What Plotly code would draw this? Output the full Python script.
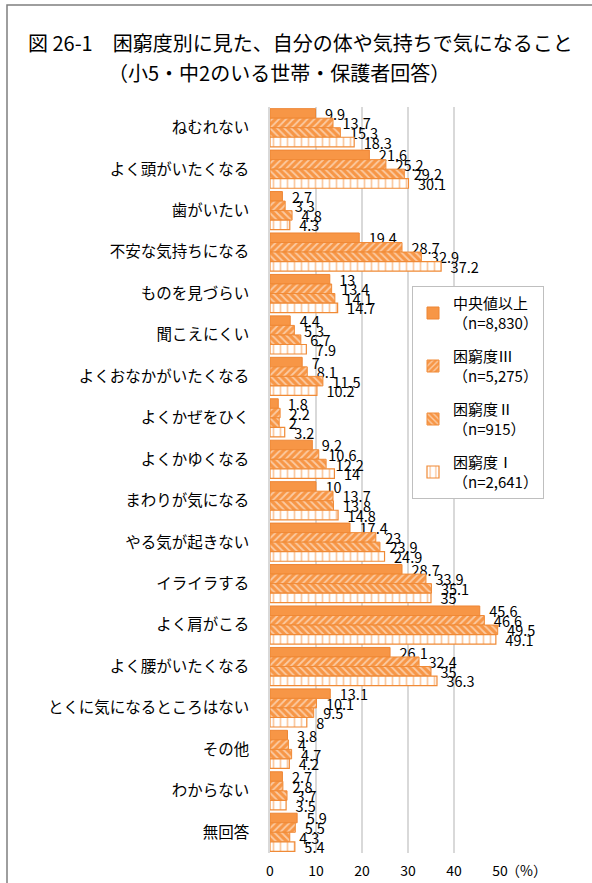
import plotly.graph_objects as go

# Data
categories = ['ねむれない', 'よく頭がいたくなる', '歯がいたい', '不安な気持ちになる', 'ものを見づらい',
              '聞こえにくい', 'よくおなかがいたくなる', 'よくかぜをひく', 'よくかゆくなる', 'まわりが気になる',
              'やる気が起きない', 'イライラする', 'よく肩がこる', 'よく腰がいたくなる',
              'とくに気になるところはない', 'その他', 'わからない', '無回答']
median_up = [9.9, 21.6, 2.7, 19.4, 13, 4.4, 7, 1.8, 9.2, 10, 17.4, 28.7, 45.6, 26.1, 13.1, 3.8, 2.7, 5.9]
level3 = [13.7, 25.2, 3.3, 28.7, 13.4, 5.3, 8.1, 2.2, 10.6, 13.7, 23, 33.9, 46.6, 32.4, 10.1, 4, 2.8, 5.5]
level2 = [15.3, 29.2, 4.8, 32.9, 14.1, 6.7, 11.5, 2, 12.2, 13.8, 23.9, 35.1, 49.5, 35, 9.5, 4.7, 3.7, 4.3]
level1 = [18.3, 30.1, 4.3, 37.2, 14.7, 7.9, 10.2, 3.2, 14, 14.8, 24.9, 35, 49.1, 36.3, 8, 4.2, 3.5, 5.4]
series_names = ['中央値以上<br>（n=8,830）', '困窮度Ⅲ<br>（n=5,275）', '困窮度Ⅱ<br>（n=915）', '困窮度Ⅰ<br>（n=2,641）']
x_ticks = [0, 10, 20, 30, 40, 50]

W, H = 592, 883
L, R, T, B = 270, 500, 107, 853  # plot area in pixels

def px_x(p):
    return (p - L) / (R - L)

def px_y(p):
    return (B - p) / (B - T)

orange = '#F79646'
edge = '#F08A36'
font_jp = 'Noto Sans CJK JP'

styles = [
    dict(color=orange, line=dict(color='#EE8533', width=1)),
    dict(color=orange, line=dict(color=edge, width=1),
         pattern=dict(shape='/', fgcolor='white', bgcolor=orange, size=5, solidity=0.35)),
    dict(color=orange, line=dict(color=edge, width=1),
         pattern=dict(shape='\\', fgcolor='white', bgcolor=orange, size=5, solidity=0.35)),
    dict(color='white', line=dict(color=edge, width=1.2),
         pattern=dict(shape='|', fgcolor=orange, bgcolor='white', size=7, solidity=0.25)),
]

fig = go.Figure()
for name, vals, st in zip(series_names, [median_up, level3, level2, level1], styles):
    fig.add_trace(go.Bar(
        y=categories, x=vals, orientation='h', name=name, legendgroup=name, marker=st,
        text=['\u00a0\u00a0' + f'{v:g}' for v in vals], textposition='outside', constraintext='none',
        cliponaxis=False, textfont=dict(size=14.5, color='black', family=font_jp)))

fig.update_layout(
    width=W, height=H, barmode='group', bargap=0.08, bargroupgap=0,
    margin=dict(l=L, r=W - R, t=T, b=H - B),
    plot_bgcolor='white', paper_bgcolor='white',
    font=dict(family=font_jp, color='black'),
    legend=dict(x=px_x(412), y=px_y(286), xanchor='left', yanchor='top',
                bgcolor='white', bordercolor='#BFBFBF', borderwidth=1,
                font=dict(size=15), tracegroupgap=11, traceorder='grouped', itemwidth=30),
)
fig.update_xaxes(range=[0, 50], tickvals=x_ticks, showgrid=True, gridcolor='#D9D9D9', gridwidth=1.5,
                 zeroline=False, showline=False, ticks='', tickfont=dict(size=14), ticklabelstandoff=8,
                 automargin=False)
fig.update_yaxes(autorange='reversed', showline=True, linecolor='#D9D9D9', linewidth=1.5,
                 ticks='', tickfont=dict(size=15.5), ticklabelstandoff=16, automargin=False)

# Title and unit
fig.add_annotation(text='図 26-1　困窮度別に見た、自分の体や気持ちで気になること', xref='paper', yref='paper',
                   x=px_x(26), y=px_y(43), xanchor='left', yanchor='middle', showarrow=False,
                   font=dict(size=20))
fig.add_annotation(text='（小5・中2のいる世帯・保護者回答）', xref='paper', yref='paper',
                   x=px_x(106), y=px_y(73), xanchor='left', yanchor='middle', showarrow=False,
                   font=dict(size=20))
fig.add_annotation(text='（%）', xref='paper', yref='paper',
                   x=px_x(504), y=px_y(870), xanchor='left', yanchor='middle', showarrow=False,
                   font=dict(size=14))

# Outer frame
fig.add_shape(type='rect', xref='paper', yref='paper', x0=px_x(7), x1=px_x(620), y0=px_y(920), y1=px_y(5),
              line=dict(color='#7F7F7F', width=1.5))

fig.write_html('out.html', config={'displayModeBar': False},
               post_script="document.body.style.margin='0';")
